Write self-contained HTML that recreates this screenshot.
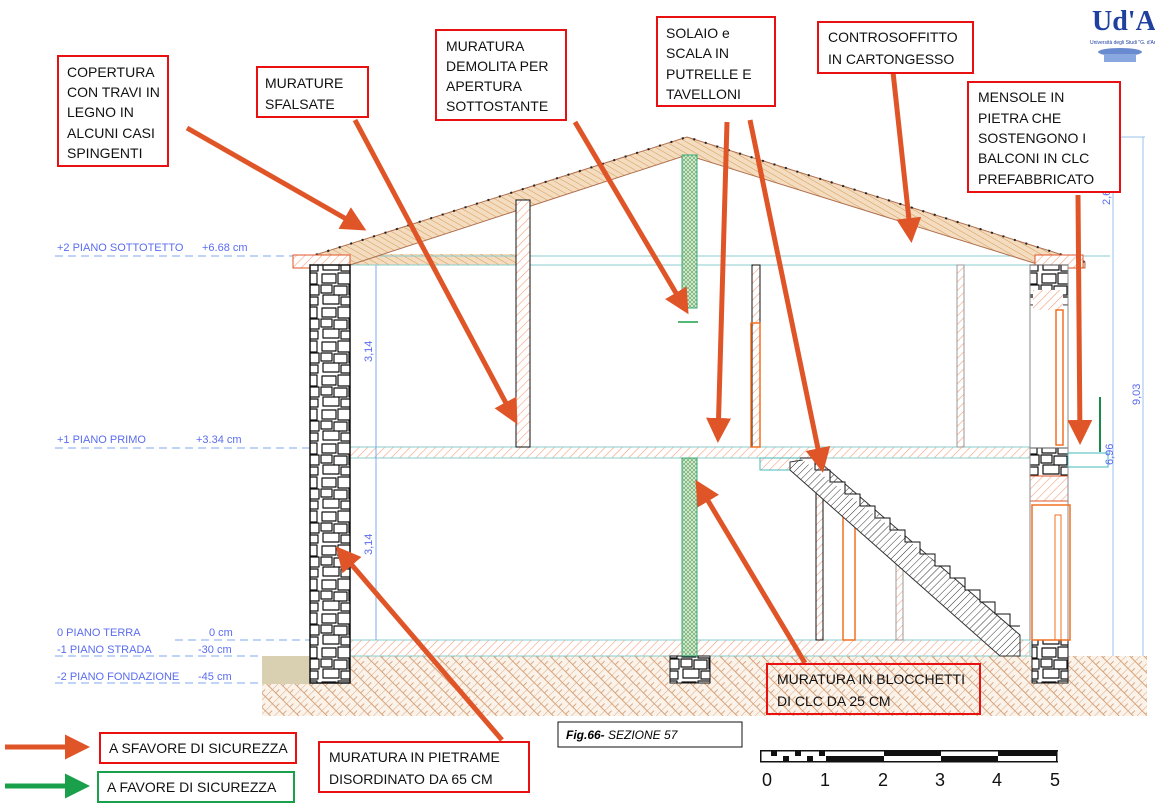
<!DOCTYPE html>
<html><head><meta charset="utf-8"><style>
html,body{margin:0;padding:0;background:#fff;}
svg{display:block;font-family:"Liberation Sans",sans-serif;}
.lb{font-size:14px;fill:#111;}
.lv{font-size:11px;fill:#5a6cf0;}
</style></head><body>
<svg width="1155" height="808" viewBox="0 0 1155 808" xmlns="http://www.w3.org/2000/svg">
<defs>
<pattern id="hr" width="6" height="6" patternUnits="userSpaceOnUse" patternTransform="rotate(45)"><rect width="6" height="6" fill="#fff"/><line x1="0" y1="0" x2="0" y2="6" stroke="#f4a080" stroke-width="1.2"/></pattern>
<pattern id="ho" width="5" height="5" patternUnits="userSpaceOnUse" patternTransform="rotate(-60)"><rect width="5" height="5" fill="#f3dcc0"/><line x1="0" y1="0" x2="0" y2="5" stroke="#d89a50" stroke-width="1"/></pattern>
<pattern id="hg" width="4" height="4" patternUnits="userSpaceOnUse"><rect width="4" height="4" fill="#d8ecd0"/><path d="M0 0L4 4M4 0L0 4" stroke="#5aa060" stroke-width=".6"/></pattern>
<pattern id="hk" width="5" height="5" patternUnits="userSpaceOnUse" patternTransform="rotate(45)"><rect width="5" height="5" fill="#fff"/><line x1="0" y1="0" x2="0" y2="5" stroke="#333" stroke-width="1"/></pattern>
<pattern id="gd" width="10" height="10" patternUnits="userSpaceOnUse" patternTransform="rotate(45)"><rect width="10" height="10" fill="#fbf3ea"/><path d="M0 0V10M5 0V5M0 5H10" stroke="#d6a27a" stroke-width=".9"/></pattern>
<pattern id="st" width="40" height="34" patternUnits="userSpaceOnUse"><rect width="40" height="34" fill="#fff"/><path d="M2 2h14v9h-14zM18 1h19v11h-19zM1 13h11v8h-11zM14 14h13v9h-13zM29 13h10v10h-10zM3 23h16v9h-16zM21 25h17v8h-17z" fill="none" stroke="#111" stroke-width="1.2" stroke-linejoin="round"/></pattern>
<marker id="ao" markerWidth="5" markerHeight="5" refX="4" refY="2.5" orient="auto" markerUnits="strokeWidth"><path d="M0 0L5 2.5L0 5z" fill="#e05528"/></marker>
<marker id="ag" markerWidth="5" markerHeight="5" refX="4" refY="2.5" orient="auto" markerUnits="strokeWidth"><path d="M0 0L5 2.5L0 5z" fill="#1aa04a"/></marker>
</defs>

<rect x="262" y="656" width="885" height="60" fill="url(#gd)"/>
<rect x="262" y="656" width="48" height="28" fill="#d8d0b0"/>
<g stroke="#7fa8ee" stroke-width="1" stroke-dasharray="8,5">
<line x1="55" y1="256" x2="310" y2="256"/><line x1="55" y1="448" x2="310" y2="448"/>
<line x1="175" y1="640" x2="310" y2="640"/><line x1="55" y1="656" x2="262" y2="656"/><line x1="55" y1="683" x2="262" y2="683"/>
</g>
<g class="lv">
<text x="57" y="251">+2 PIANO SOTTOTETTO</text><text x="202" y="251">+6.68 cm</text>
<text x="57" y="443">+1 PIANO PRIMO</text><text x="196" y="443">+3.34 cm</text>
<text x="57" y="636">0 PIANO TERRA</text><text x="209" y="636">0 cm</text>
<text x="57" y="653">-1 PIANO STRADA</text><text x="198" y="653">-30 cm</text>
<text x="57" y="680">-2 PIANO FONDAZIONE</text><text x="198" y="680">-45 cm</text>
</g>
<rect x="350" y="640" width="680" height="16" fill="url(#hr)" stroke="#8cc" stroke-width="1"/>
<rect x="350" y="447" width="680" height="11" fill="url(#hr)" stroke="#8cc" stroke-width="1"/>
<rect x="350" y="254" width="168" height="11" fill="url(#ho)"/>
<line x1="350" y1="265" x2="1030" y2="265" stroke="#8cc"/>
<line x1="350" y1="256" x2="1110" y2="256" stroke="#8cc"/>
<line x1="376" y1="265" x2="376" y2="640" stroke="#7fa8ee"/>
<text class="lv" transform="translate(372,362) rotate(-90)">3,14</text>
<text class="lv" transform="translate(372,555) rotate(-90)">3,14</text>
<polygon points="293,262 687,137 1085,262 1085,268 1050,268 687,155 350,265 293,268" fill="url(#ho)" stroke="#b07050" stroke-width="1"/>
<polyline points="293,262 687,137 1085,262" fill="none" stroke="#222" stroke-width="2" stroke-dasharray="2,10"/>
<rect x="293" y="255" width="57" height="13" fill="url(#hr)" stroke="#e05528"/>
<rect x="1035" y="255" width="48" height="13" fill="url(#hr)" stroke="#e05528"/>
<rect x="310" y="265" width="40" height="418" fill="url(#st)" stroke="#111" stroke-width="1.5"/>
<rect x="1030" y="265" width="38" height="40" fill="url(#st)" stroke="#555"/>
<rect x="1030" y="448" width="38" height="28" fill="url(#st)" stroke="#555"/>
<rect x="1030" y="476" width="38" height="25" fill="url(#hr)" stroke="#e05528"/>
<rect x="1032" y="640" width="36" height="43" fill="url(#st)" stroke="#111"/>
<rect x="670" y="656" width="40" height="27" fill="url(#st)" stroke="#111"/>
<line x1="1030" y1="265" x2="1030" y2="640" stroke="#888"/>
<line x1="1068" y1="265" x2="1068" y2="640" stroke="#888"/>
<rect x="1033" y="290" width="30" height="20" fill="url(#hr)"/>
<rect x="1056" y="310" width="7" height="135" fill="none" stroke="#f07020" stroke-width="1.5"/>
<rect x="1032" y="505" width="38" height="135" fill="none" stroke="#f07020" stroke-width="1.5"/>
<rect x="1055" y="515" width="6" height="125" fill="none" stroke="#f07020"/>
<rect x="1068" y="453" width="40" height="14" fill="none" stroke="#4bb"/>
<line x1="1100" y1="397" x2="1100" y2="452" stroke="#1a8a4a" stroke-width="2"/>
<rect x="516" y="200" width="14" height="247" fill="url(#hr)" stroke="#111"/>
<rect x="682" y="155" width="15" height="153" fill="url(#hg)" stroke="#3a7"/>
<line x1="678" y1="322" x2="698" y2="322" stroke="#1aa04a" stroke-width="1.5"/>
<rect x="682" y="458" width="15" height="198" fill="url(#hg)" stroke="#3a7"/>
<rect x="752" y="265" width="8" height="182" fill="url(#hr)" stroke="#111"/>
<rect x="751" y="323" width="9" height="124" fill="none" stroke="#f07020" stroke-width="1.5"/>
<rect x="957" y="265" width="7" height="182" fill="url(#hr)" stroke="#999"/>
<rect x="816" y="492" width="7" height="148" fill="url(#hr)" stroke="#111"/>
<rect x="843" y="515" width="12" height="125" fill="none" stroke="#f07020" stroke-width="1.5"/>
<rect x="896" y="560" width="7" height="80" fill="url(#hr)" stroke="#999"/>
<rect x="760" y="458" width="40" height="12" fill="url(#hr)" stroke="#4bb"/>
<polygon points="790,462 815,458 1020,635 1020,656 1000,656 790,470" fill="url(#hk)" stroke="#333"/>
<polyline points="800,458 815,458 815,470 830,470 830,482 845,482 845,494 860,494 860,506 875,506 875,518 890,518 890,530 905,530 905,542 920,542 920,554 935,554 935,566 950,566 950,578 965,578 965,590 980,590 980,602 995,602 995,614 1010,614 1010,626 1020,626" fill="#fff" stroke="#111" stroke-width="1"/>
<line x1="1113" y1="137" x2="1113" y2="656" stroke="#9ac0ee"/>
<line x1="1143" y1="137" x2="1143" y2="656" stroke="#9ac0ee"/>
<line x1="1080" y1="137" x2="1145" y2="137" stroke="#9ac0ee"/>
<text class="lv" transform="translate(1110,205) rotate(-90)">2,64</text>
<text class="lv" transform="translate(1140,405) rotate(-90)">9,03</text>
<text class="lv" transform="translate(1113,465) rotate(-90)">6,96</text>
<g stroke="#e05528" stroke-width="5" marker-end="url(#ao)" fill="none">
<line x1="187" y1="128" x2="362" y2="228"/>
<line x1="355" y1="120" x2="515" y2="420"/>
<line x1="575" y1="122" x2="686" y2="310"/>
<line x1="727" y1="122" x2="718" y2="438"/>
<line x1="750" y1="120" x2="822" y2="468"/>
<line x1="893" y1="72" x2="911" y2="238"/>
<line x1="1078" y1="195" x2="1080" y2="440"/>
<line x1="805" y1="663" x2="698" y2="484"/>
<line x1="502" y1="740" x2="339" y2="550"/>
<line x1="5" y1="747" x2="85" y2="747"/>
</g>
<line x1="5" y1="786" x2="85" y2="786" stroke="#1aa04a" stroke-width="5" marker-end="url(#ag)"/>
<g fill="#fff" stroke="#e81010" stroke-width="2">
<rect x="58" y="56" width="110" height="110"/>
<rect x="257" y="67" width="111" height="50"/>
<rect x="436" y="30" width="130" height="90"/>
<rect x="657" y="17" width="118" height="89"/>
<rect x="818" y="22" width="155" height="51"/>
<rect x="968" y="82" width="152" height="110"/>
<rect x="767" y="664" width="213" height="50" fill="none"/>
<rect x="319" y="742" width="210" height="50"/>
<rect x="100" y="733" width="196" height="30"/>
</g>
<rect x="98" y="772" width="196" height="30" fill="#fff" stroke="#1aa04a" stroke-width="2"/>
<g class="lb">
<text x="67" y="77">COPERTURA</text><text x="67" y="97">CON TRAVI IN</text><text x="67" y="117">LEGNO IN</text><text x="67" y="138">ALCUNI CASI</text><text x="67" y="158">SPINGENTI</text>
<text x="265" y="88">MURATURE</text><text x="265" y="109">SFALSATE</text>
<text x="446" y="51">MURATURA</text><text x="446" y="71">DEMOLITA PER</text><text x="446" y="91">APERTURA</text><text x="446" y="111">SOTTOSTANTE</text>
<text x="666" y="38">SOLAIO  e</text><text x="666" y="58">SCALA IN</text><text x="666" y="79">PUTRELLE E</text><text x="666" y="99">TAVELLONI</text>
<text x="828" y="42">CONTROSOFFITTO</text><text x="828" y="64">IN CARTONGESSO</text>
<text x="978" y="102">MENSOLE IN</text><text x="978" y="123">PIETRA CHE</text><text x="978" y="143">SOSTENGONO I</text><text x="978" y="163">BALCONI IN CLC</text><text x="978" y="184">PREFABBRICATO</text>
<text x="777" y="684">MURATURA IN BLOCCHETTI</text><text x="777" y="706">DI CLC DA 25 CM</text>
<text x="329" y="762">MURATURA IN PIETRAME</text><text x="329" y="784">DISORDINATO DA 65 CM</text>
<text x="109" y="753">A SFAVORE DI SICUREZZA</text>
<text x="107" y="792">A FAVORE DI SICUREZZA</text>
</g>
<rect x="558" y="722" width="184" height="25" fill="#fff" stroke="#111"/>
<text x="566" y="739" font-size="12" font-style="italic"><tspan font-weight="bold">Fig.66-</tspan>  SEZIONE 57</text>
<g fill="#111">
<rect x="760" y="750" width="298" height="1.5"/><rect x="760" y="761" width="298" height="1.5"/>
<rect x="771" y="750" width="6" height="6"/><rect x="783" y="756" width="6" height="6"/><rect x="795" y="750" width="6" height="6"/><rect x="807" y="756" width="6" height="6"/><rect x="819" y="750" width="6" height="6"/>
<rect x="826" y="756" width="58" height="6"/><rect x="884" y="750" width="57" height="6"/><rect x="941" y="756" width="57" height="6"/><rect x="998" y="750" width="58" height="6"/>
<rect x="760" y="750" width="1.5" height="12"/><rect x="1056" y="750" width="1.5" height="12"/>
</g>
<g font-size="18" fill="#111">
<text x="762" y="786">0</text><text x="820" y="786">1</text><text x="878" y="786">2</text><text x="935" y="786">3</text><text x="992" y="786">4</text><text x="1050" y="786">5</text>
</g>
<text x="1092" y="30" font-family="Liberation Serif,serif" font-size="28" font-weight="bold" fill="#2040a0">Ud'A</text>
<text x="1090" y="44" font-size="5" fill="#2040a0">Università degli Studi "G. d'Annunzio"</text>
<ellipse cx="1120" cy="52" rx="22" ry="4" fill="#6a8ad0"/>
<rect x="1104" y="54" width="32" height="8" fill="#8aa8e0"/>
</svg>
</body></html>
